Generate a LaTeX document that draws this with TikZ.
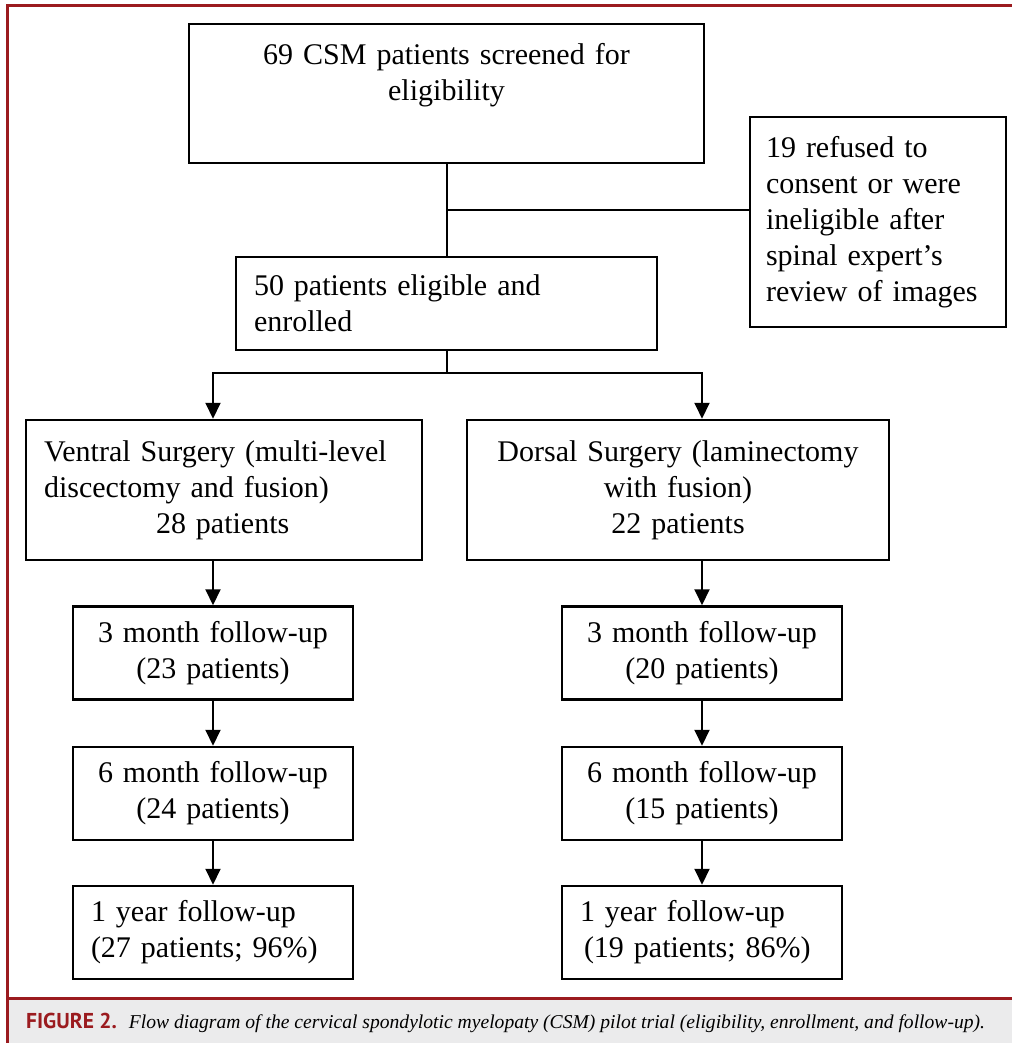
\documentclass[tikz,border=0pt]{standalone}
\usepackage{fontspec}
\setmainfont{Liberation Serif}
\newfontfamily\capsans{PT Sans}
\usetikzlibrary{arrows.meta}
\definecolor{capred}{HTML}{9B1B1F}
\definecolor{capgray}{HTML}{EBEBEC}
\tikzset{
  flowbox/.style={draw,line width=2.5pt,inner xsep=18pt,inner ysep=3pt},
  smallbox/.style={flowbox,text width=244pt,align=center,minimum height=93pt},
  link/.style={line width=2pt},
}

\begin{document}
\begin{tikzpicture}[x=1pt,y=-1pt,font=\fontsize{30}{36}\selectfont,>={Triangle[width=15pt,length=16pt]}]
\useasboundingbox (0,0) rectangle (1012,1043);
% frame and caption band
\fill[capgray] (7,998) rectangle (1012,1043);
\draw[capred,line width=3pt] (7,1043) -- (7,6) -- (1012,6);
\draw[capred,line width=3pt] (7,998) -- (1012,998);
\node[anchor=base west,inner sep=0pt] (caption) at (26,1028)
  {{\capsans\bfseries\fontsize{21.5}{24}\selectfont\color{capred}FIGURE 2.}\hspace{12pt}%
   {\itshape\fontsize{19.6}{22}\selectfont Flow diagram of the cervical spondylotic myelopaty (CSM) pilot trial (eligibility, enrollment, and follow-up).}};

% screening and enrolment
\node[flowbox,text width=479pt,align=center,minimum height=139pt,text depth=80pt] (screen) at (446.5,93.5)
  {69 CSM patients screened for\\eligibility};
\node[flowbox,inner xsep=16pt,text width=224pt,align=left,minimum height=210pt] (refused) at (878,222)
  {19 refused to\\consent or were\\ineligible after\\spinal expert’s\\review of images};
\node[flowbox,text width=385pt,align=left,minimum height=93pt] (enrol) at (446.5,303.5)
  {50 patients eligible and\\enrolled};

% surgery arms
\node[flowbox,text width=360pt,align=left,minimum height=140pt] (ventral) at (224,490)
  {Ventral Surgery (multi-level\\discectomy and fusion)\\\hspace*{112pt}28 patients};
\node[flowbox,text width=386pt,align=center,minimum height=140pt] (dorsal) at (678,490)
  {Dorsal Surgery (laminectomy\\with fusion)\\22 patients};

% follow-up
\node[smallbox] (vthree) at (213,653) {3 month follow-up\\(23 patients)};
\node[smallbox] (dthree) at (702,653) {3 month follow-up\\(20 patients)};
\node[smallbox] (vsix) at (213,793.5) {6 month follow-up\\(24 patients)};
\node[smallbox] (dsix) at (702,793.5) {6 month follow-up\\(15 patients)};
\node[smallbox,align=left] (vyear) at (213,932.5) {1 year follow-up\\(27 patients; 96\%)};
\node[smallbox,align=left] (dyear) at (702,932.5) {1 year follow-up\\\hspace*{4pt}(19 patients; 86\%)};

% connectors
\coordinate (split) at (446.5,210);
\coordinate (fork) at (446.5,373);
\draw[link] (screen.south) -- (enrol.north);
\draw[link] (split) -- (split -| refused.west);
\draw[link] (enrol.south) -- (fork);
\draw[link,->] (fork) -| (ventral.north -| vthree.north);
\draw[link,->] (fork) -| (dorsal.north -| dthree.north);
\draw[link,->] (ventral.south -| vthree.north) -- (vthree.north);
\draw[link,->] (dorsal.south -| dthree.north) -- (dthree.north);
\foreach \a/\b in {vthree/vsix,vsix/vyear,dthree/dsix,dsix/dyear}
  \draw[link,->] (\a.south) -- (\b.north);
\end{tikzpicture}
\end{document}
